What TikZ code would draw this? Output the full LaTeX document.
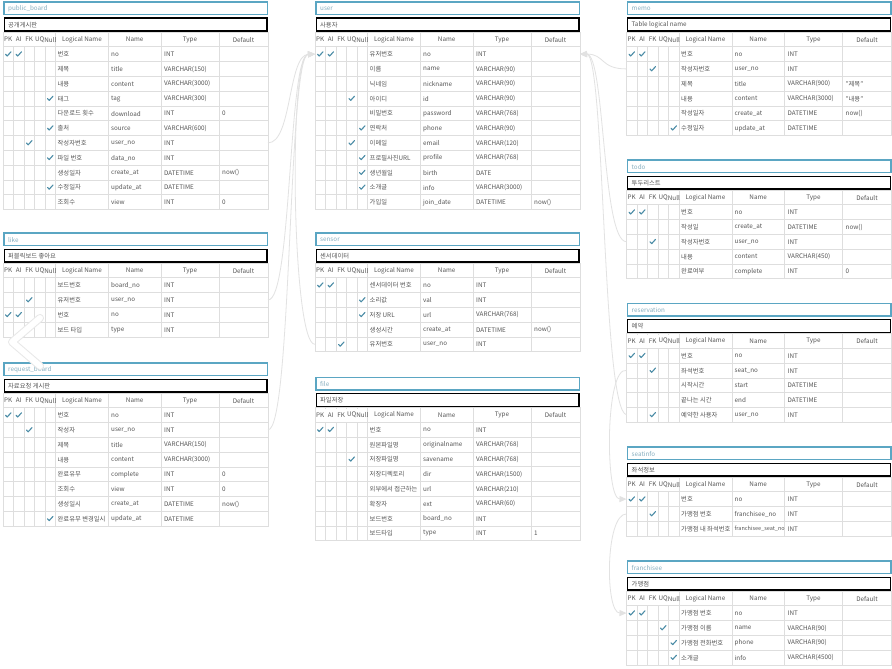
\documentclass[tikz,border=0pt]{standalone}
\usepackage{fontspec}
\setmainfont{Noto Sans CJK KR}
\usetikzlibrary{arrows.meta}
\definecolor{tealb}{HTML}{5BA6C3}
\definecolor{ttl}{HTML}{86AEBF}
\definecolor{chkc}{HTML}{4B8CA6}
\definecolor{gridc}{HTML}{DEDEDE}
\definecolor{txt}{HTML}{555555}
\definecolor{connc}{HTML}{E2E2E2}
\tikzset{
  tbar/.style={draw=tealb,line width=1.5pt,fill=white},
  sbar/.style={draw=black,line width=1.4pt,fill=white},
  ttext/.style={anchor=west,inner sep=0pt,text=ttl,font=\fontsize{6.3}{7}\selectfont},
  stext/.style={anchor=west,inner sep=0pt,text=txt,font=\fontsize{6.3}{7}\selectfont},
  hd/.style={inner sep=0pt,text=txt,font=\fontsize{6.3}{7}\selectfont},
  cell/.style={anchor=west,inner sep=0pt,text=txt,font=\fontsize{6.3}{7}\selectfont},
  gridl/.style={draw=gridc,line width=0.6pt},
  chk/.style={draw=chkc,line width=1.1pt,line cap=round,line join=round},
  conn/.style={draw=connc,line width=0.8pt,-{Triangle[length=7pt,width=6pt,fill=connc]}},
}
% table: id, left x, top y, title, subtitle, rows
\newcommand\tbl[6]{%
  \def\TID{#1}\def\TX{#2}\def\TY{#3}%
  \pgfmathsetmacro\tbot{#3+44.7+#6*14.8}%
  \fill[white] ({#2},{#3+30}) rectangle ({#2+265},\tbot);
  \draw[tbar] ({#2+0.75},{#3}) rectangle ({#2+264.25},{#3+12.5});
  \node[ttext] (#1-title) at ({#2+5},{#3+6.6}) {#4};
  \draw[sbar] ({#2+1.2},{#3+16.2}) rectangle ({#2+263.8},{#3+29});
  \node[stext] (#1-sub) at ({#2+5},{#3+22.8}) {#5};
  \draw[gridl] ({#2},{#3+30}) rectangle ({#2+265},\tbot);
  \foreach \c in {10.3,21,31.5,42,52.3,105.5,158,216}{\draw[gridl] ({#2+\c},{#3+30}) -- ({#2+\c},\tbot);}
  \foreach \r in {1,...,#6}{\draw[gridl] ({#2},{#3+44.7+(\r-1)*14.8}) -- ({#2+265},{#3+44.7+(\r-1)*14.8});}
  \fill[white] ({#2+0.5},{#3+31}) rectangle ({#2+52},{#3+44.2});
  \node[hd] (#1-hpk) at ({#2+5.2},{#3+37.6}) {PK};
  \node[hd] (#1-hai) at ({#2+15.7},{#3+37.6}) {AI};
  \node[hd] (#1-hfk) at ({#2+26.2},{#3+37.6}) {FK};
  \node[hd] (#1-huq) at ({#2+36.7},{#3+37.6}) {UQ};
  \node[hd] (#1-hnl) at ({#2+47.4},{#3+37.6}) {Null};
  \node[hd] (#1-hln) at ({#2+78.9},{#3+37.6}) {Logical Name};
  \node[hd] (#1-hnm) at ({#2+131.7},{#3+37.6}) {Name};
  \node[hd] (#1-hty) at ({#2+187},{#3+37.6}) {Type};
  \node[hd] (#1-hdf) at ({#2+240.5},{#3+37.6}) {Default};
}
% row: index, checks, logical, name, type, default
\newcommand\rw[6]{%
  \pgfmathsetmacro\ry{\TY+44.7+(#1-0.5)*14.8}%
  \coordinate (\TID-#1-L) at (\TX,\ry);
  \coordinate (\TID-#1-R) at ({\TX+265},\ry);
  \foreach \c in {#2}{\ifnum\c>0
    \pgfmathsetmacro\cx{\TX+5.2+(\c-1)*10.5}%
    \draw[chk] ({\cx-2.7},{\ry+0.1}) -- ({\cx-1},{\ry+1.9}) -- ({\cx+2.8},{\ry-2.3});
  \fi}
  \begin{scope}\clip ({\TX+52.3},{\ry-7}) rectangle ({\TX+105.3},{\ry+7});
    \node[cell] (\TID-#1-l) at ({\TX+54.5},{\ry+0.3}) {#3};\end{scope}
  \begin{scope}\clip ({\TX+105.5},{\ry-7}) rectangle ({\TX+157.8},{\ry+7});
    \node[cell] (\TID-#1-n) at ({\TX+108},{\ry+0.3}) {#4};\end{scope}
  \node[cell] (\TID-#1-t) at ({\TX+161},{\ry+0.3}) {#5};
  \node[cell] (\TID-#1-d) at ({\TX+219},{\ry+0.3}) {#6};
}
\begin{document}
\begin{tikzpicture}[x=1pt,y=-1pt]
\useasboundingbox[fill=white] (0,0) rectangle (892,669);

% public_board
\tbl{pb}{3}{2}{public\_board}{공개게시판}{11}
\rw{1}{1,2}{번호}{no}{INT}{}
\rw{2}{0}{제목}{title}{VARCHAR(150)}{}
\rw{3}{0}{내용}{content}{VARCHAR(3000)}{}
\rw{4}{5}{태그}{tag}{VARCHAR(300)}{}
\rw{5}{0}{다운로드 횟수}{download}{INT}{0}
\rw{6}{5}{출처}{source}{VARCHAR(600)}{}
\rw{7}{3}{작성자번호}{user\_no}{INT}{}
\rw{8}{5}{파일 번호}{data\_no}{INT}{}
\rw{9}{0}{생성일자}{create\_at}{DATETIME}{now()}
\rw{10}{5}{수정일자}{update\_at}{DATETIME}{}
\rw{11}{0}{조회수}{view}{INT}{0}

% like
\tbl{lk}{3}{233}{like}{퍼블릭보드 좋아요}{4}
\rw{1}{0}{보드번호}{board\_no}{INT}{}
\rw{2}{3}{유저번호}{user\_no}{INT}{}
\rw{3}{1,2}{번호}{no}{INT}{}
\rw{4}{0}{보드 타입}{type}{INT}{}

% request_board
\tbl{rb}{3}{363}{request\_board}{자료요청 게시판}{8}
\rw{1}{1,2}{번호}{no}{INT}{}
\rw{2}{3}{작성자}{user\_no}{INT}{}
\rw{3}{0}{제목}{title}{VARCHAR(150)}{}
\rw{4}{0}{내용}{content}{VARCHAR(3000)}{}
\rw{5}{0}{완료유무}{complete}{INT}{0}
\rw{6}{0}{조회수}{view}{INT}{0}
\rw{7}{0}{생성일시}{create\_at}{DATETIME}{now()}
\rw{8}{5}{완료유무 변경일시}{update\_at}{DATETIME}{}

% user
\tbl{us}{315}{2}{user}{사용자}{11}
\rw{1}{1,2}{유저번호}{no}{INT}{}
\rw{2}{0}{이름}{name}{VARCHAR(90)}{}
\rw{3}{0}{닉네임}{nickname}{VARCHAR(90)}{}
\rw{4}{4}{아이디}{id}{VARCHAR(90)}{}
\rw{5}{0}{비밀번호}{password}{VARCHAR(768)}{}
\rw{6}{5}{연락처}{phone}{VARCHAR(90)}{}
\rw{7}{4}{이메일}{email}{VARCHAR(120)}{}
\rw{8}{5}{프로필사진URL}{profile}{VARCHAR(768)}{}
\rw{9}{5}{생년월일}{birth}{DATE}{}
\rw{10}{5}{소개글}{info}{VARCHAR(3000)}{}
\rw{11}{0}{가입일}{join\_date}{DATETIME}{now()}

% sensor
\tbl{se}{315}{233}{sensor}{센서데이터}{5}
\rw{1}{1,2}{센서데이터 번호}{no}{INT}{}
\rw{2}{5}{소리값}{val}{INT}{}
\rw{3}{5}{저장 URL}{url}{VARCHAR(768)}{}
\rw{4}{0}{생성시간}{create\_at}{DATETIME}{now()}
\rw{5}{3}{유저번호}{user\_no}{INT}{}

% file
\tbl{fi}{315}{377.5}{file}{파일저장}{8}
\rw{1}{1,2}{번호}{no}{INT}{}
\rw{2}{0}{원본파일명}{originalname}{VARCHAR(768)}{}
\rw{3}{4}{저장파일명}{savename}{VARCHAR(768)}{}
\rw{4}{0}{저장디렉토리}{dir}{VARCHAR(1500)}{}
\rw{5}{0}{외부에서 접근하는}{url}{VARCHAR(210)}{}
\rw{6}{0}{확장자}{ext}{VARCHAR(60)}{}
\rw{7}{0}{보드번호}{board\_no}{INT}{}
\rw{8}{0}{보드타입}{type}{INT}{1}

% memo
\tbl{me}{626.5}{2}{memo}{Table logical name}{6}
\rw{1}{1,2}{번호}{no}{INT}{}
\rw{2}{3}{작성자번호}{user\_no}{INT}{}
\rw{3}{0}{제목}{title}{VARCHAR(900)}{"제목"}
\rw{4}{0}{내용}{content}{VARCHAR(3000)}{"내용"}
\rw{5}{0}{작성일자}{create\_at}{DATETIME}{now()}
\rw{6}{5}{수정일자}{update\_at}{DATETIME}{}

% todo
\tbl{td}{626.5}{160}{todo}{투두리스트}{5}
\rw{1}{1,2}{번호}{no}{INT}{}
\rw{2}{0}{작성일}{create\_at}{DATETIME}{now()}
\rw{3}{3}{작성자번호}{user\_no}{INT}{}
\rw{4}{0}{내용}{content}{VARCHAR(450)}{}
\rw{5}{0}{완료여부}{complete}{INT}{0}

% reservation
\tbl{re}{626.5}{303.5}{reservation}{예약}{5}
\rw{1}{1,2}{번호}{no}{INT}{}
\rw{2}{3}{좌석번호}{seat\_no}{INT}{}
\rw{3}{0}{시작시간}{start}{DATETIME}{}
\rw{4}{0}{끝나는 시간}{end}{DATETIME}{}
\rw{5}{3}{예약한 사용자}{user\_no}{INT}{}

% seatinfo
\tbl{si}{626.5}{447}{seatinfo}{좌석정보}{3}
\rw{1}{1,2}{번호}{no}{INT}{}
\rw{2}{3}{가맹점 번호}{franchisee\_no}{INT}{}
\rw{3}{0}{가맹점 내 좌석번호}{{\fontsize{5.5}{6}\selectfont franchisee\_seat\_no}}{INT}{}

% franchisee
\tbl{fr}{626.5}{561}{franchisee}{가맹점}{4}
\rw{1}{1,2}{가맹점 번호}{no}{INT}{}
\rw{2}{4}{가맹점 이름}{name}{VARCHAR(90)}{}
\rw{3}{5}{가맹점 전화번호}{phone}{VARCHAR(90)}{}
\rw{4}{5}{소개글}{info}{VARCHAR(4500)}{}

% connectors
\draw[conn] (pb-7-R) .. controls (292,143) and (288,55) .. (us-1-L);
\draw[conn] (lk-2-R) .. controls (292,301) and (288,55) .. (us-1-L);
\draw[conn] (rb-2-R) .. controls (292,430) and (288,55) .. (us-1-L);
\draw[conn] (se-5-L) .. controls (292,346) and (288,55) .. (us-1-L);
\draw[conn] (me-2-L) .. controls (600,69) and (605,54) .. (us-1-R);
\draw[conn] (td-3-L) .. controls (602,242) and (605,54) .. (us-1-R);
\draw[conn] (re-5-L) .. controls (602,410) and (605,54) .. (us-1-R);
\draw[conn] (re-2-L) .. controls (605,366) and (605,499) .. (si-1-L);
\draw[conn] (si-2-L) .. controls (605,514) and (605,613) .. (fr-1-L);

% chevron overlay
\draw[line width=8pt,gray!18,line cap=round,line join=round] (40,318) -- (12,342) -- (40,366);
\draw[line width=6pt,white,line cap=round,line join=round] (40,318) -- (12,342) -- (40,366);
\end{tikzpicture}
\end{document}
